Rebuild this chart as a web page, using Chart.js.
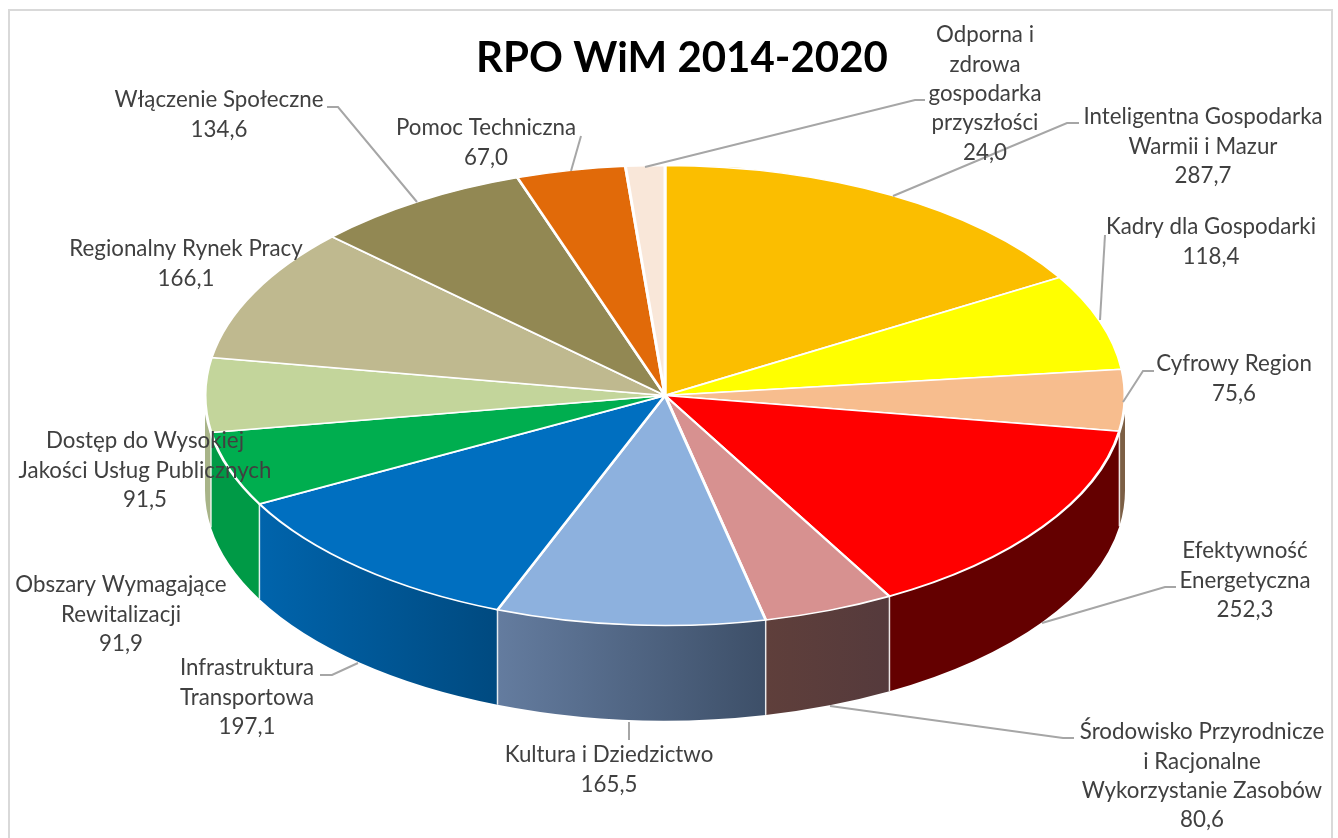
<!DOCTYPE html>
<html lang="pl">
<head>
<meta charset="utf-8">
<title>RPO WiM 2014-2020</title>
<script src="https://cdn.jsdelivr.net/npm/chart.js@4"></script>
<style>
    html, body { margin: 0; padding: 0; background: #fff; overflow: hidden; }
    canvas { display: block; }
</style>
</head>
<body>
<canvas id="pieChart" width="1338" height="838"></canvas>
<script>
const chartTitle = 'RPO WiM 2014-2020';

const categories = [
    'Inteligentna Gospodarka\nWarmii i Mazur',
    'Kadry dla Gospodarki',
    'Cyfrowy Region',
    'Efektywność\nEnergetyczna',
    'Środowisko Przyrodnicze\ni Racjonalne\nWykorzystanie Zasobów',
    'Kultura i Dziedzictwo',
    'Infrastruktura\nTransportowa',
    'Obszary Wymagające\nRewitalizacji',
    'Dostęp do Wysokiej\nJakości Usług Publicznych',
    'Regionalny Rynek Pracy',
    'Włączenie Społeczne',
    'Pomoc Techniczna',
    'Odporna i\nzdrowa\ngospodarka\nprzyszłości'
];
const values = [287.7, 118.4, 75.6, 252.3, 80.6, 165.5, 197.1, 91.9, 91.5, 166.1, 134.6, 67.0, 24.0];

// slice styling, same order as categories
const topColors = ['#fbbe00', '#ffff00', '#f7bd8e', '#ff0000', '#d79190', '#8db1de', '#006fc0', '#00ae4f', '#c3d59b', '#bfb98f', '#928853', '#e16a09', '#f9e7d9'];
const wallColors = [
    ['#a07a00', '#a07a00'], ['#a0a000', '#a0a000'], ['#7c5f45', '#7c5f45'], ['#640000', '#640000'],
    ['#5f3f3b', '#553a3c'], ['#647c9f', '#3d4f68'], ['#0064ac', '#004a80'], ['#009a46', '#009a46'],
    ['#a8b488', '#a8b488'], ['#8a8568', '#8a8568'], ['#6a6240', '#6a6240'], ['#a04c06', '#a04c06'], ['#b0a498', '#b0a498']
];

// label centre x, first line centre y
const labelPos = [
    [1203, 117], [1211, 227], [1234, 364], [1245, 551], [1202, 732], [609, 755], [247, 668],
    [121, 585], [145, 441], [186, 249], [219, 100], [486, 128], [985, 35]
];
const leaderLines = [
    [[893, 196], [1067, 123], [1079, 123]],
    [[1100, 320], [1105, 235]],
    [[1123, 402], [1143, 371], [1154, 371]],
    [[1042, 623], [1165, 587], [1176, 587]],
    [[830, 706], [1063, 738], [1074, 738]],
    [[629, 722], [629, 740]],
    [[320, 675], [332, 675], [358, 663]],
    [[327, 107], [338, 107], [417, 202]],
    [[581, 136], [571, 171]],
    [[645, 167], [915, 100], [925, 100]]
];

const squash = 2;      // x stretch of the pie, turns the circle into the ellipse
const wallDepth = 95;
const lineGap = 29.4;

const pie3d = {
    id: 'pie3d',
    beforeDraw(chart) {
        const c = chart.ctx;
        c.save();
        c.strokeStyle = '#d9d9d9';
        c.lineWidth = 2;
        c.beginPath();
        c.moveTo(9, 838);
        c.lineTo(9, 10);
        c.lineTo(1332, 10);
        c.lineTo(1332, 838);
        c.stroke();
        c.restore();
    },
    beforeDatasetsDraw(chart) {
        const c = chart.ctx;
        const arcs = chart.getDatasetMeta(0).data;
        const { x: cx, y: cy, outerRadius: r } = arcs[0];
        // side walls, only the front half of the ellipse shows
        arcs.forEach((arc, i) => {
            const a = Math.max(arc.startAngle, 0);
            const b = Math.min(arc.endAngle, Math.PI);
            if (b <= a) return;
            const x1 = cx + squash * r * Math.cos(a);
            const x2 = cx + squash * r * Math.cos(b);
            const grad = c.createLinearGradient(Math.min(x1, x2), 0, Math.max(x1, x2), 0);
            grad.addColorStop(0, wallColors[i][0]);
            grad.addColorStop(1, wallColors[i][1]);
            c.fillStyle = grad;
            c.beginPath();
            c.ellipse(cx, cy, squash * r, r, 0, a, b);
            c.ellipse(cx, cy + wallDepth, squash * r, r, 0, b, a, true);
            c.closePath();
            c.fill();
        });
        // white seams between the walls
        c.strokeStyle = 'rgba(255,255,255,0.85)';
        c.lineWidth = 1.5;
        arcs.forEach((arc) => {
            const a = arc.startAngle;
            if (a <= 0 || a >= Math.PI) return;
            const x = cx + squash * r * Math.cos(a);
            const y = cy + r * Math.sin(a);
            c.beginPath();
            c.moveTo(x, y);
            c.lineTo(x, y + wallDepth);
            c.stroke();
        });
        // the library draws a circle, stretch it here
        c.save();
        c.translate(cx, cy);
        c.scale(squash, 1);
        c.translate(-cx, -cy);
    },
    afterDatasetsDraw(chart) {
        chart.ctx.restore();
    },
    afterDraw(chart) {
        const c = chart.ctx;
        c.save();
        c.strokeStyle = '#a6a6a6';
        c.lineWidth = 2;
        leaderLines.forEach((pts) => {
            c.beginPath();
            pts.forEach((p, i) => (i ? c.lineTo(p[0], p[1]) : c.moveTo(p[0], p[1])));
            c.stroke();
        });
        c.textAlign = 'center';
        c.textBaseline = 'middle';
        c.fillStyle = '#404040';
        c.font = '22.3px Lato';
        categories.forEach((name, i) => {
            const lines = name.split('\n');
            lines.push(values[i].toFixed(1).replace('.', ','));
            lines.forEach((t, k) => c.fillText(t, labelPos[i][0], labelPos[i][1] + k * lineGap));
        });
        c.fillStyle = '#000';
        c.font = 'bold 42px Lato';
        c.fillText(chartTitle, 682, 58);
        c.restore();
    }
};

const ctx = document.getElementById('pieChart').getContext('2d');
new Chart(ctx, {
    type: 'pie',
    data: {
        labels: categories,
        datasets: [{
            data: values,
            backgroundColor: topColors,
            borderColor: '#fff',
            borderWidth: 1.5,
            clip: false
        }]
    },
    options: {
        responsive: false,
        animation: false,
        radius: 230,
        layout: { padding: { right: 8, bottom: 47 } },
        plugins: {
            legend: { display: false },
            tooltip: { enabled: false }
        }
    },
    plugins: [pie3d]
});
</script>
</body>
</html>
